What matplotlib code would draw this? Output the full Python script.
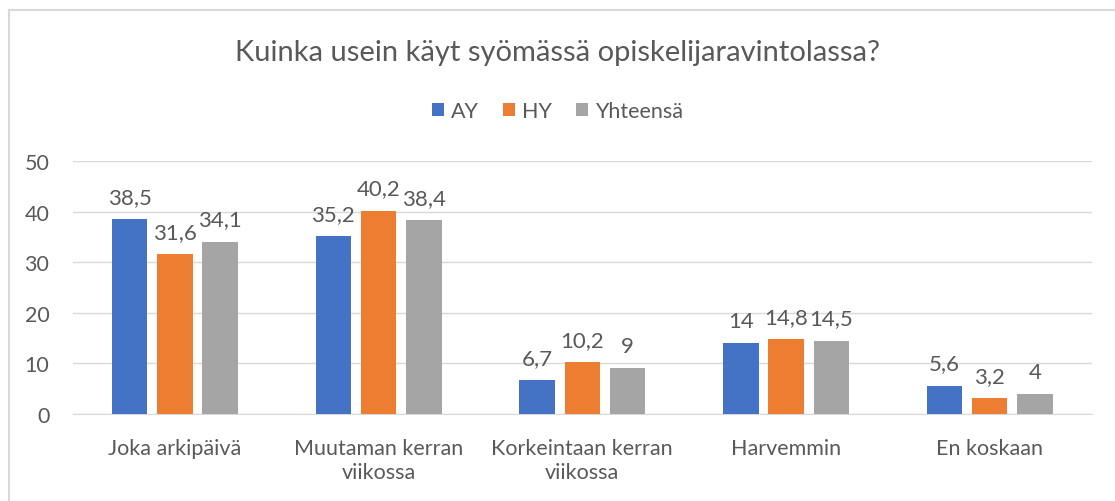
import matplotlib.pyplot as plt
import numpy as np

categories = ["Joka arkipäivä", "Muutaman kerran\nviikossa", "Korkeintaan kerran\nviikossa", "Harvemmin", "En koskaan"]
ay = [38.5, 35.2, 6.7, 14, 5.6]
hy = [31.6, 40.2, 10.2, 14.8, 3.2]
total = [34.1, 38.4, 9, 14.5, 4]
series = ["AY", "HY", "Yhteensä"]
colors = ["#4472C4", "#ED7D31", "#A5A5A5"]

plt.rcParams['font.family'] = ['Lato', 'DejaVu Sans']
txt = "#595959"

fig = plt.figure(figsize=(11.15, 5.02), dpi=100)
ax = fig.add_axes([0.0655, 0.1733, 0.9135, 0.5037])

x = np.arange(len(categories))
w = 0.174
step = 0.222

for i, (vals, name) in enumerate(zip([ay, hy, total], series)):
    pos = x + (i - 1) * step
    ax.bar(pos, vals, w, color=colors[i], label=name, zorder=3)
    for px, v in zip(pos, vals):
        lab = ("%g" % v).replace(".", ",")
        ax.text(px, v + 2.4, lab, ha="center", va="bottom", fontsize=16, color=txt)

ax.set_xlim(-0.5, len(categories) - 0.5)
ax.set_ylim(0, 50)
ax.set_yticks(range(0, 51, 10))
ax.yaxis.grid(True, color="#D9D9D9", linewidth=1, zorder=0)
for s in ["top", "right", "left"]:
    ax.spines[s].set_visible(False)
ax.spines["bottom"].set_color("#D9D9D9")
ax.tick_params(axis="both", length=0, labelsize=15.5, labelcolor=txt)
ax.tick_params(axis="y", pad=17)
ax.tick_params(axis="x", pad=17)
ax.set_xticks(x)
ax.set_xticklabels(categories, linespacing=1.25)

fig.text(0.5, 0.895, "Kuinka usein käyt syömässä opiskelijaravintolassa?", ha="center", va="center",
         fontsize=21, color=txt)
fig.legend(loc="center", bbox_to_anchor=(0.5, 0.777), ncol=3, frameon=False, fontsize=15.5,
           handlelength=0.55, handleheight=0.55, handletextpad=0.35, columnspacing=1.1,
           labelcolor=txt)

# chart frame: top and left edges only visible in the reference
fig.add_artist(plt.Line2D([8.5 / 1115, 1.0], [1 - 10.5 / 502] * 2, transform=fig.transFigure,
                          color="#D9D9D9", linewidth=1.5))
fig.add_artist(plt.Line2D([8.5 / 1115] * 2, [0.0, 1 - 10.5 / 502], transform=fig.transFigure,
                          color="#D9D9D9", linewidth=1.5))

fig.savefig("out.png", dpi=100)
